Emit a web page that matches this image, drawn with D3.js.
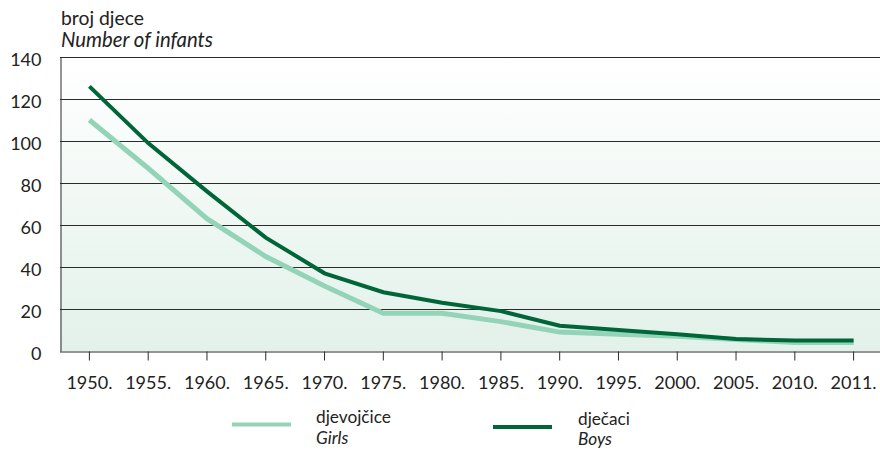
<!DOCTYPE html>
<html><head><meta charset="utf-8">
<script src="https://cdn.jsdelivr.net/npm/d3@7/dist/d3.min.js"></script>
<style>body{margin:0;background:#fff;} svg{display:block;font-family:Lato,"Open Sans",sans-serif;}</style>
</head><body><svg id="c" width="880" height="450"></svg>
<script>
const years = ["1950.","1955.","1960.","1965.","1970.","1975.","1980.","1985.","1990.","1995.","2000.","2005.","2010.","2011."];
const girls = [110, 87, 63, 45, 31, 18, 18, 14, 9, 8, 7, 5.5, 4, 4];
const boys  = [126, 99, 76, 54, 37, 28, 23, 19, 12, 10, 8, 5.7, 5, 5];
const yTicks = [0,20,40,60,80,100,120,140];

const svg = d3.select("#c");
const L = 60, R = 883, T = 57, B = 351;
const x = d3.scaleBand().domain(years).range([L, R]);
const y = d3.scaleLinear().domain([0,140]).range([B, T]);
const FF = "Lato,'Open Sans',sans-serif";

function fit(sel, w){
  const n = sel.node(); const fs = parseFloat(sel.attr("font-size"));
  const cur = n.getComputedTextLength();
  if (cur > 0) sel.attr("font-size", (fs*w/cur).toFixed(2));
  return sel;
}

const defs = svg.append("defs");
const g = defs.append("linearGradient").attr("id","bg").attr("x1",0).attr("y1",0).attr("x2",0).attr("y2",1);
g.append("stop").attr("offset","0%").attr("stop-color","#ffffff");
g.append("stop").attr("offset","100%").attr("stop-color","#e2f1e9");
svg.append("rect").attr("x",L).attr("y",T).attr("width",880-L).attr("height",B-T).attr("fill","url(#bg)");

// grid
svg.append("g").selectAll("line").data(yTicks.filter(d=>d>0)).join("line")
  .attr("x1",L).attr("x2",880).attr("y1",d=>Math.round(y(d))+0.5).attr("y2",d=>Math.round(y(d))+0.5)
  .attr("stroke","#2b2b2b").attr("stroke-width",1);

// y axis
const ya = svg.append("g").attr("transform",`translate(${L+0.5},0)`)
  .call(d3.axisLeft(y).tickValues(yTicks).tickSize(0).tickPadding(19));
ya.select(".domain").attr("stroke","#2b2b2b");
ya.selectAll("text").attr("font-size",18).attr("dy","0.48em").attr("fill","#222").attr("font-family",FF);

// x axis
const xa = svg.append("g").attr("transform",`translate(0,${B+0.5})`)
  .call(d3.axisBottom(x).tickSize(9).tickSizeOuter(0).tickPadding(16));
xa.select(".domain").attr("stroke","#2b2b2b").attr("d",`M${L},0.5H880`);
xa.selectAll(".tick line").attr("stroke","#2b2b2b");
xa.selectAll("text").attr("font-size",18).attr("fill","#222").attr("font-family",FF);

const line = d3.line().x((d,i)=>x(years[i])+x.bandwidth()/2).y(d=>y(d));
svg.append("path").datum(girls).attr("d",line).attr("fill","none").attr("stroke","#93d3b7").attr("stroke-width",5);
svg.append("path").datum(boys).attr("d",line).attr("fill","none").attr("stroke","#006639").attr("stroke-width",4);

// titles
fit(svg.append("text").attr("x",61).attr("y",25).attr("font-size",18).attr("fill","#222").text("broj djece"), 83);
fit(svg.append("text").attr("x",61).attr("y",47).attr("font-size",18).attr("font-style","italic").attr("fill","#222").text("Number of infants"), 152);

// legend
const leg = [
  {lx:232, ly:424.5, tx:316, hy:423, ey:444, hr:"djevojčice", en:"Girls", hw:75, c:"#93d3b7"},
  {lx:493, ly:427, tx:578, hy:425, ey:445, hr:"dječaci", en:"Boys", hw:52, c:"#006639"}
];
leg.forEach(d=>{
  svg.append("line").attr("x1",d.lx).attr("x2",d.lx+59).attr("y1",d.ly).attr("y2",d.ly).attr("stroke",d.c).attr("stroke-width",4);
  const t1 = svg.append("text").attr("x",d.tx).attr("y",d.hy).attr("font-size",16).attr("fill","#222").text(d.hr);
  fit(t1, d.hw);
  svg.append("text").attr("x",d.tx).attr("y",d.ey).attr("font-size",t1.attr("font-size")).attr("font-style","italic").attr("fill","#222").text(d.en);
});
</script></body></html>
